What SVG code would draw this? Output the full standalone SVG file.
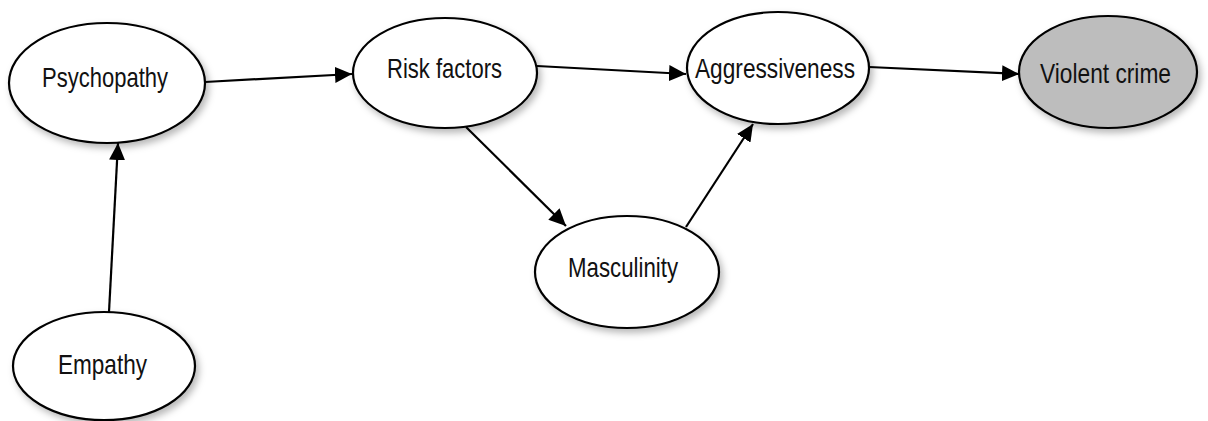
<svg xmlns="http://www.w3.org/2000/svg" width="1208" height="421" viewBox="0 0 1208 421">
  <style>
    .node ellipse { fill: #ffffff; stroke: #000000; stroke-width: 2.2; filter: url(#shadow); }
    .node.outcome ellipse { fill: #bdbdbd; }
    .node text { font-family: "Liberation Sans", Arial, sans-serif; font-size: 28px; fill: #111111; text-anchor: middle; }
    .edge { stroke: #000000; stroke-width: 2.2; fill: none; marker-end: url(#arrow); }
  </style>
  <defs>
    <filter id="shadow" x="-20%" y="-20%" width="150%" height="150%">
      <feDropShadow dx="3" dy="4" stdDeviation="3.5" flood-color="#000000" flood-opacity="0.28"/>
    </filter>
    <marker id="arrow" markerUnits="userSpaceOnUse" markerWidth="18" markerHeight="16" refX="17" refY="8" orient="auto">
      <path d="M0,0 L17,8 L0,16 Z" fill="#000000"/>
    </marker>
  </defs>
  <rect width="1208" height="421" fill="#ffffff"/>

  <g id="connectors">
    <line class="edge" x1="109" y1="312" x2="118" y2="143"/>
    <line class="edge" x1="205" y1="82" x2="352" y2="74"/>
    <line class="edge" x1="537" y1="66" x2="686" y2="74"/>
    <line class="edge" x1="869" y1="67" x2="1019" y2="74"/>
    <line class="edge" x1="466" y1="127" x2="566" y2="226"/>
    <line class="edge" x1="686" y1="227" x2="753" y2="124"/>
  </g>

  <g id="node-psychopathy" class="node">
    <ellipse cx="107" cy="83" rx="98" ry="60"/>
    <text x="105" y="87" textLength="126" lengthAdjust="spacingAndGlyphs">Psychopathy</text>
  </g>
  <g id="node-risk-factors" class="node">
    <ellipse cx="445" cy="73" rx="92" ry="55"/>
    <text x="444.5" y="78" textLength="115" lengthAdjust="spacingAndGlyphs">Risk factors</text>
  </g>
  <g id="node-aggressiveness" class="node">
    <ellipse cx="778" cy="68" rx="91" ry="56"/>
    <text x="775" y="78" textLength="160" lengthAdjust="spacingAndGlyphs">Aggressiveness</text>
  </g>
  <g id="node-violent-crime" class="node outcome">
    <ellipse cx="1108" cy="72" rx="89" ry="56"/>
    <text x="1105.5" y="83" textLength="131" lengthAdjust="spacingAndGlyphs">Violent crime</text>
  </g>
  <g id="node-masculinity" class="node">
    <ellipse cx="627" cy="272" rx="92" ry="56"/>
    <text x="623" y="277" textLength="110" lengthAdjust="spacingAndGlyphs">Masculinity</text>
  </g>
  <g id="node-empathy" class="node">
    <ellipse cx="104" cy="366" rx="91" ry="54"/>
    <text x="102.5" y="374" textLength="89" lengthAdjust="spacingAndGlyphs">Empathy</text>
  </g>
</svg>
